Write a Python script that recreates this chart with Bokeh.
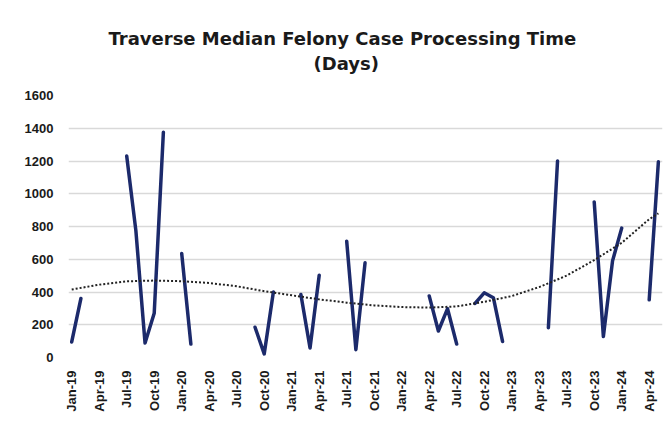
import math
from bokeh.plotting import figure
from bokeh.models import Range1d, FixedTicker, Title, ColumnDataSource
from bokeh.embed import file_html
from bokeh.resources import INLINE

nan = float("nan")

# Monthly median felony case processing time (days), Jan-19 .. May-24 (gaps = no data)
case_days = [95, 360, nan, nan, nan, nan, 1230, 775, 88, 270, 1375, nan,
             635, 82, nan, nan, nan, nan, nan, nan, 185, 22, 400, nan,
             nan, 385, 58, 502, nan, nan, 710, 48, 578, nan, nan, nan,
             nan, nan, nan, 376, 162, 298, 82, nan, 330, 395, 365, 98,
             nan, nan, nan, nan, 182, 1200, nan, nan, nan, 950, 128, 590,
             790, nan, nan, 352, 1195]
month_index = list(range(len(case_days)))

# Polynomial trendline (month index, days)
trend_months = [0, 3, 6, 9, 12, 15, 18, 21, 24, 27, 30, 33, 36, 39, 42, 45, 48, 51, 54, 57, 60, 63, 64]
trend_days = [415, 445, 465, 470, 466, 455, 435, 405, 380, 355, 335, 318, 308, 305, 312, 340, 375, 430, 500, 595, 700, 845, 880]

tick_months = [0, 3, 6, 9, 12, 15, 18, 21, 24, 27, 30, 33, 36, 39, 42, 45, 48, 51, 54, 57, 60, 63]
tick_labels = ["Jan-19", "Apr-19", "Jul-19", "Oct-19", "Jan-20", "Apr-20", "Jul-20", "Oct-20",
               "Jan-21", "Apr-21", "Jul-21", "Oct-21", "Jan-22", "Apr-22", "Jul-22", "Oct-22",
               "Jan-23", "Apr-23", "Jul-23", "Oct-23", "Jan-24", "Apr-24"]
y_ticks = [0, 200, 400, 600, 800, 1000, 1200, 1400, 1600]

title_main = "Traverse Median Felony Case Processing Time"
title_sub = "(Days)"

p = figure(width=665, height=415, output_backend="svg", toolbar_location=None,
           x_range=Range1d(-0.35, 64.45), y_range=Range1d(0, 1600),
           min_border_left=68, min_border_right=3, min_border_top=95, min_border_bottom=58)
p.outline_line_color = None
p.background_fill_color = "white"
p.border_fill_color = "white"

p.xgrid.grid_line_color = None
p.ygrid.grid_line_color = "#d9d9d9"
p.ygrid.grid_line_width = 1.5
p.yaxis.ticker = FixedTicker(ticks=y_ticks)
p.xaxis.ticker = FixedTicker(ticks=tick_months)
p.xaxis.major_label_overrides = {m: l for m, l in zip(tick_months, tick_labels)}
p.xaxis.major_label_orientation = math.pi / 2

for ax in (p.xaxis, p.yaxis):
    ax.axis_line_color = None
    ax.major_tick_line_color = None
    ax.minor_tick_line_color = None
    ax.major_label_text_font = "Liberation Sans"
    ax.major_label_text_font_style = "bold"
    ax.major_label_text_font_size = "13px"
    ax.major_label_text_color = "#1a1a1a"
p.yaxis.major_tick_out = 0
p.yaxis.major_label_standoff = 15
p.xaxis.major_label_standoff = 7

src = ColumnDataSource(dict(x=month_index, y=case_days))
p.line("x", "y", source=src, line_color="#1c2a6b", line_width=3.5, line_join="round", line_cap="round")

tsrc = ColumnDataSource(dict(x=trend_months, y=trend_days))
p.line("x", "y", source=tsrc, line_color="#222222", line_width=2, line_dash="2 2")

# spacing panel between plot area and the title lines
p.add_layout(Title(text=" ", standoff=18, text_font_size="2px", text_line_height=1.0), "above")
p.add_layout(Title(text=title_sub, align="left", offset=245, standoff=0,
                   text_font="DejaVu Sans", text_font_style="bold", text_font_size="18px",
                   text_line_height=1.0, text_color="#1a1a1a"), "above")
p.add_layout(Title(text=title_main, align="left", offset=40, standoff=4,
                   text_font="DejaVu Sans", text_font_style="bold", text_font_size="18px",
                   text_line_height=1.0, text_color="#1a1a1a"), "above")

open("out.html", "w").write(file_html(p, INLINE))
